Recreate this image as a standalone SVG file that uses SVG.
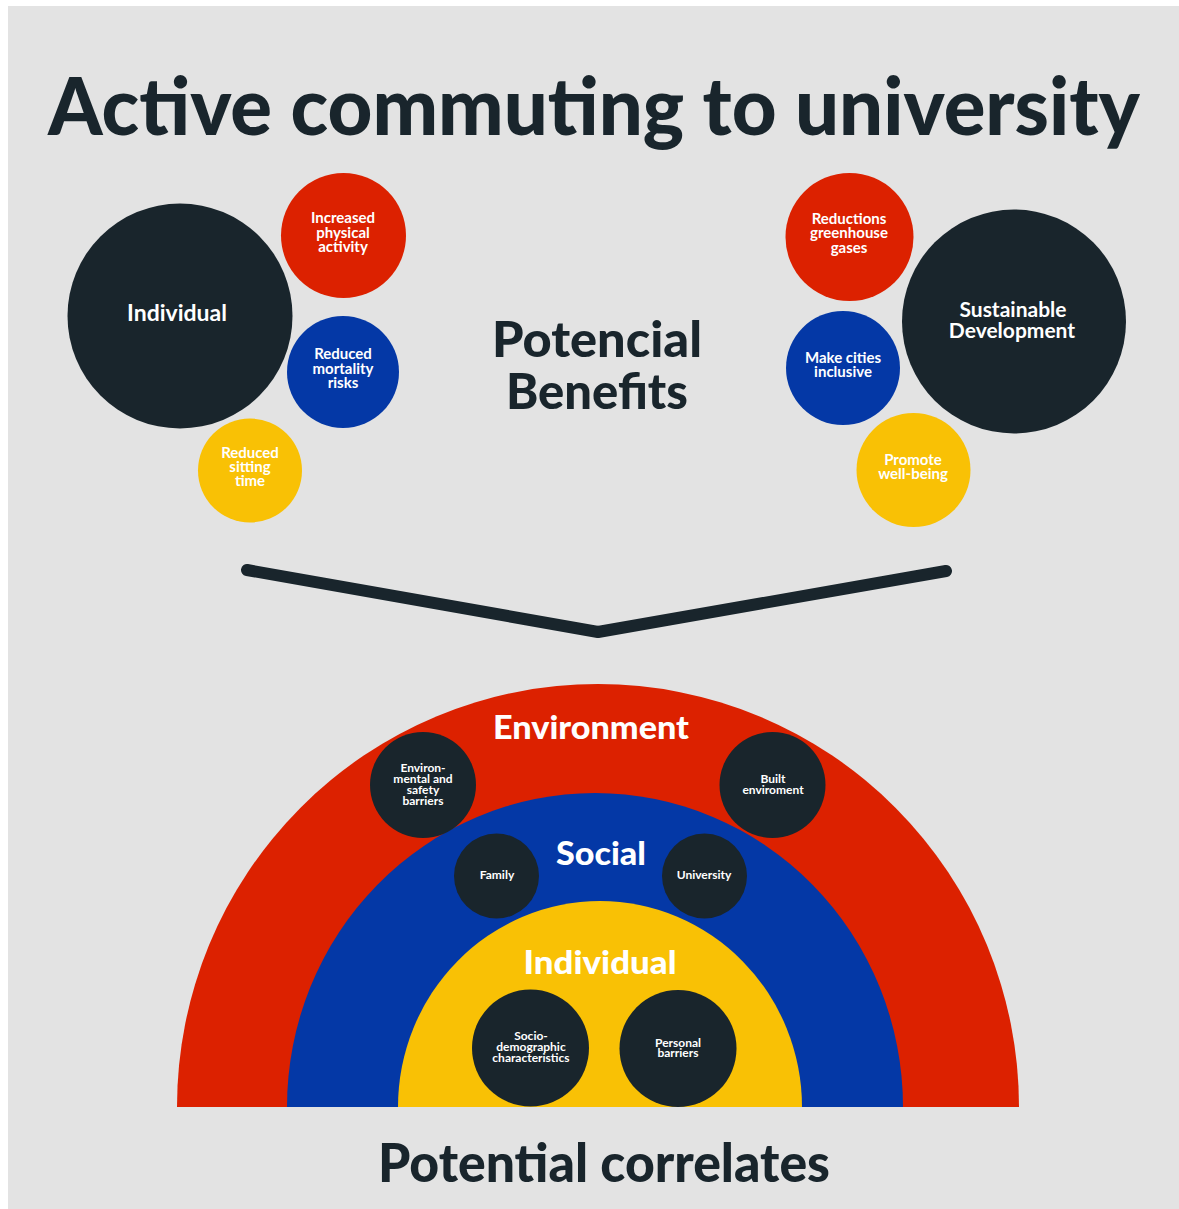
<svg xmlns="http://www.w3.org/2000/svg" width="1179" height="1209" viewBox="0 0 1179 1209">
  <style>
    .ink { fill: #19252c; }
    .red { fill: #dc2100; }
    .blue { fill: #0438a6; }
    .yellow { fill: #f9c105; }
    .head { font-family: Lato, "Liberation Sans", sans-serif; font-weight: 900; text-anchor: middle; }
    .lbl { font-family: Lato, "Liberation Sans", sans-serif; font-weight: 700; fill: #ffffff; text-anchor: middle; }
    .s15 { font-size: 15px; }
    .s12 { font-size: 12px; }
    .link { fill: none; stroke: #19252c; stroke-width: 12; stroke-linecap: round; stroke-linejoin: round; }
  </style>

  <!-- canvas -->
  <rect x="0" y="0" width="1179" height="1209" fill="#ffffff"/>
  <rect x="8" y="6" width="1171" height="1203" fill="#e3e3e3"/>

  <!-- heading -->
  <text class="head ink" x="594" y="135" font-size="80" textLength="1092" lengthAdjust="spacingAndGlyphs">Active commuting to university</text>

  <!-- benefits: individual cluster -->
  <g id="benefit-individual">
    <circle class="ink" cx="180" cy="316" r="112.5"/>
    <text class="lbl" x="177" y="321" font-size="22" textLength="100" lengthAdjust="spacingAndGlyphs">Individual</text>
  </g>
  <g id="benefit-physical-activity">
    <circle class="red" cx="343.5" cy="235.5" r="62.5"/>
    <text class="lbl s15"><tspan x="343" y="223">Increased</tspan><tspan x="343" y="238">physical</tspan><tspan x="343" y="252">activity</tspan></text>
  </g>
  <g id="benefit-mortality">
    <circle class="blue" cx="343" cy="372" r="56"/>
    <text class="lbl s15"><tspan x="343" y="359">Reduced</tspan><tspan x="343" y="374">mortality</tspan><tspan x="343" y="388">risks</tspan></text>
  </g>
  <g id="benefit-sitting">
    <circle class="yellow" cx="250" cy="470.5" r="52"/>
    <text class="lbl s15"><tspan x="250" y="458">Reduced</tspan><tspan x="250" y="472">sitting</tspan><tspan x="250" y="486">time</tspan></text>
  </g>

  <!-- benefits: sustainability cluster -->
  <g id="benefit-sustainable">
    <circle class="ink" cx="1014" cy="321.5" r="112"/>
    <text class="lbl" font-size="21"><tspan x="1013" y="317">Sustainable</tspan><tspan x="1012" y="338">Development</tspan></text>
  </g>
  <g id="benefit-greenhouse">
    <circle class="red" cx="849.5" cy="237" r="64"/>
    <text class="lbl s15"><tspan x="849" y="224">Reductions</tspan><tspan x="849" y="238">greenhouse</tspan><tspan x="849" y="253">gases</tspan></text>
  </g>
  <g id="benefit-cities">
    <circle class="blue" cx="843" cy="368" r="57"/>
    <text class="lbl s15"><tspan x="843" y="363">Make cities</tspan><tspan x="843" y="377">inclusive</tspan></text>
  </g>
  <g id="benefit-wellbeing">
    <circle class="yellow" cx="913.5" cy="470" r="57"/>
    <text class="lbl s15"><tspan x="913" y="465">Promote</tspan><tspan x="913" y="479">well-being</tspan></text>
  </g>

  <g id="benefits-title">
    <text class="head ink" x="597" y="357" font-size="50" textLength="210" lengthAdjust="spacingAndGlyphs">Potencial</text>
    <text class="head ink" x="597" y="409" font-size="50" textLength="182" lengthAdjust="spacingAndGlyphs">Benefits</text>
  </g>

  <!-- chevron joining benefits to correlates -->
  <g id="connectors">
    <polyline class="link" points="247,570 598,632 946,571"/>
  </g>

  <!-- correlates: nested half-rings -->
  <g id="ring-environment">
    <path class="red" d="M177,1107 A421,423 0 0 1 1019,1107 Z"/>
    <text class="head" fill="#ffffff" x="591" y="739" font-size="32" textLength="196" lengthAdjust="spacingAndGlyphs">Environment</text>
  </g>
  <g id="ring-social">
    <path class="blue" d="M287,1107 A308,314 0 0 1 903,1107 Z"/>
    <text class="head" fill="#ffffff" x="601" y="865" font-size="32" textLength="90" lengthAdjust="spacingAndGlyphs">Social</text>
  </g>
  <g id="ring-individual">
    <path class="yellow" d="M398,1107 A202,206 0 0 1 802,1107 Z"/>
    <text class="head" fill="#ffffff" x="600" y="974" font-size="33" textLength="153" lengthAdjust="spacingAndGlyphs">Individual</text>
  </g>

  <g id="env-safety-barriers">
    <circle class="ink" cx="423" cy="785" r="53"/>
    <text class="lbl s12"><tspan x="423" y="772">Environ-</tspan><tspan x="423" y="783">mental and</tspan><tspan x="423" y="794">safety</tspan><tspan x="423" y="805">barriers</tspan></text>
  </g>
  <g id="built-environment">
    <circle class="ink" cx="772.5" cy="785" r="53"/>
    <text class="lbl s12"><tspan x="773" y="783">Built</tspan><tspan x="773" y="794">enviroment</tspan></text>
  </g>
  <g id="social-family">
    <circle class="ink" cx="496.5" cy="876" r="42.5"/>
    <text class="lbl s12" x="497" y="879">Family</text>
  </g>
  <g id="social-university">
    <circle class="ink" cx="704.5" cy="876" r="42.5"/>
    <text class="lbl s12" x="704" y="879">University</text>
  </g>
  <g id="ind-sociodemographic">
    <circle class="ink" cx="530.5" cy="1048" r="58.5"/>
    <text class="lbl s12"><tspan x="531" y="1040">Socio-</tspan><tspan x="531" y="1051">demographic</tspan><tspan x="531" y="1062">characteristics</tspan></text>
  </g>
  <g id="ind-personal-barriers">
    <circle class="ink" cx="678" cy="1048.5" r="58.5"/>
    <text class="lbl s12"><tspan x="678" y="1047">Personal</tspan><tspan x="678" y="1057">barriers</tspan></text>
  </g>

  <text class="head ink" x="604" y="1182" font-size="54" textLength="452" lengthAdjust="spacingAndGlyphs">Potential correlates</text>
</svg>
